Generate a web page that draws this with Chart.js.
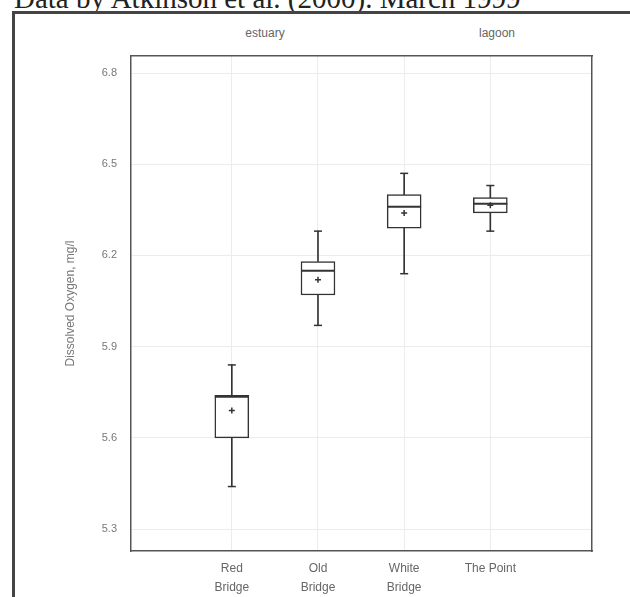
<!DOCTYPE html>
<html lang="en">
<head>
<meta charset="UTF-8">
<title>Dissolved oxygen boxplot</title>
<script src="https://cdn.jsdelivr.net/npm/chart.js"></script>
<style>
    body {
        margin: 0;
        background: #ffffff;
        font-family: "Liberation Sans", Arial, sans-serif;
    }

    .page {
        position: relative;
        width: 630px;
        height: 597px;
        overflow: hidden;
    }

    .caption {
        position: absolute;
        left: 14px;
        top: -16px;
        font-family: "Liberation Serif", serif;
        font-size: 29px;
        line-height: 29px;
        color: #222;
        white-space: nowrap;
    }

    /* outer frame of the scanned figure */
    .frame-top {
        position: absolute;
        left: 12px;
        top: 11px;
        width: 618px;
        height: 3px;
        background: #444;
    }

    .frame-left {
        position: absolute;
        left: 12px;
        top: 11px;
        width: 3px;
        height: 586px;
        background: #444;
    }

    .group {
        position: absolute;
        top: 26px;
        font-size: 12px;
        color: #666;
        transform: translateX(-50%);
    }

    .chart-box {
        position: absolute;
        left: 0;
        top: 0;
        width: 630px;
        height: 597px;
    }
</style>
</head>
<body>
<div class="page">
    <div class="caption">Data by Atkinson et al. (2000). March 1999</div>
    <div class="frame-top"></div>
    <div class="frame-left"></div>
    <div class="group" style="left:265px">estuary</div>
    <div class="group" style="left:497px">lagoon</div>
    <div class="chart-box"><canvas id="grafico"></canvas></div>
</div>

<script>
// sites along the x axis
const sites = [['Red', 'Bridge'], ['Old', 'Bridge'], ['White', 'Bridge'], ['The Point']];

// dissolved oxygen, mg/l
const minimos = [5.44, 5.97, 6.14, 6.28];
const cuartil1 = [5.60, 6.07, 6.29, 6.34];
const medianas = [5.735, 6.15, 6.36, 6.37];
const medias = [5.69, 6.12, 6.34, 6.365];
const cuartil3 = [5.74, 6.18, 6.40, 6.39];
const maximos = [5.84, 6.28, 6.47, 6.43];

const yTicks = [5.3, 5.6, 5.9, 6.2, 6.5, 6.8];

const ink = '#333333';
const idx = sites.map((s, i) => i);

const cajas = idx.map(i => ({ x: i, y: [cuartil1[i], cuartil3[i]] }));
const bigotes = idx.flatMap(i => [
    { x: i, y: [cuartil3[i], maximos[i]] },
    { x: i, y: [minimos[i], cuartil1[i]] }
]);
const topes = idx.flatMap(i => [{ x: i, y: maximos[i] }, { x: i, y: minimos[i] }]);
const lineaMediana = idx.map(i => ({ x: i, y: medianas[i] }));
const puntoMedia = idx.map(i => ({ x: i, y: medias[i] }));

Chart.defaults.font.family = '"Liberation Sans", Arial, sans-serif';
Chart.defaults.color = '#666';

new Chart(document.getElementById('grafico'), {
    type: 'bar',
    data: {
        datasets: [
            {
                type: 'scatter',
                data: puntoMedia,
                pointStyle: 'cross',
                pointRadius: 3,
                borderColor: ink,
                borderWidth: 1.5,
                order: 0
            },
            {
                type: 'scatter',
                data: lineaMediana,
                pointStyle: 'line',
                pointRadius: 17,
                borderColor: ink,
                borderWidth: 2,
                order: 1
            },
            {
                type: 'scatter',
                data: topes,
                pointStyle: 'line',
                pointRadius: 4,
                borderColor: ink,
                borderWidth: 1.5,
                order: 2
            },
            {
                data: cajas,
                grouped: false,
                barThickness: 34,
                backgroundColor: '#ffffff',
                borderColor: ink,
                borderWidth: 1.5,
                borderSkipped: false,
                order: 3
            },
            {
                data: bigotes,
                grouped: false,
                barThickness: 1,
                backgroundColor: ink,
                borderWidth: 0,
                order: 4
            }
        ]
    },
    options: {
        responsive: true,
        maintainAspectRatio: false,
        animation: false,
        layout: {
            padding: { top: 56, right: 38, bottom: 0, left: 59 }
        },
        plugins: {
            legend: { display: false },
            tooltip: { enabled: false }
        },
        scales: {
            x: {
                type: 'linear',
                offset: false,
                min: -1.17,
                max: 4.18,
                afterBuildTicks: axis => { axis.ticks = idx.map(v => ({ value: v })); },
                afterFit: axis => { axis.height = 46; },
                ticks: {
                    padding: 8,
                    maxRotation: 0,
                    font: { size: 12, lineHeight: 1.6 },
                    color: '#666',
                    callback: v => sites[v]
                },
                grid: { color: '#ececec', drawTicks: false, offset: false },
                border: { color: '#555', width: 1.5 }
            },
            x2: {
                type: 'linear',
                position: 'top',
                offset: false,
                min: -1.17,
                max: 4.18,
                ticks: { display: false },
                grid: { display: false },
                afterFit: axis => { axis.height = 0; },
                border: { color: '#555', width: 1.5 }
            },
            y: {
                min: 5.228,
                max: 6.856,
                afterBuildTicks: axis => { axis.ticks = yTicks.map(v => ({ value: v })); },
                afterFit: axis => { axis.width = 72; },
                ticks: {
                    padding: 14,
                    font: { size: 11 },
                    color: '#777',
                    callback: v => v.toFixed(1)
                },
                grid: { color: '#ececec', drawTicks: false },
                border: { color: '#555', width: 1.5 },
                title: {
                    display: true,
                    text: 'Dissolved Oxygen, mg/l',
                    font: { size: 12 },
                    color: '#777'
                }
            },
            y2: {
                position: 'right',
                min: 5.228,
                max: 6.856,
                ticks: { display: false },
                grid: { display: false },
                afterFit: axis => { axis.width = 0; },
                border: { color: '#555', width: 1.5 }
            }
        }
    }
});
</script>
</body>
</html>
